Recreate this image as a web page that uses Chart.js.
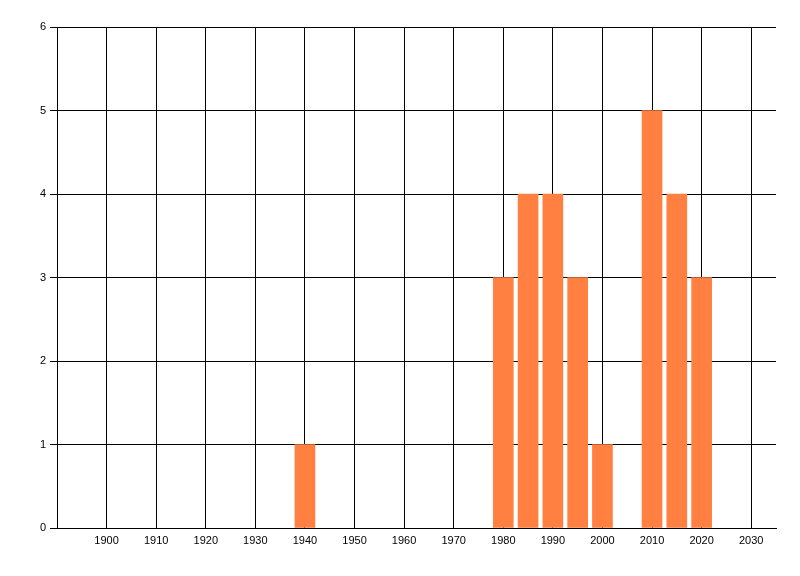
<!DOCTYPE html>
<html lang="en">
<head>
  <meta charset="UTF-8" />
  <title>Bar Chart by Year</title>
  <script src="https://cdn.jsdelivr.net/npm/chart.js"></script>
  <style>
    body { margin: 0; background: #ffffff; }
    #wrap { width: 800px; height: 576px; }
  </style>
</head>
<body>

<div id="wrap">
  <canvas id="myChart" width="800" height="576"></canvas>
</div>

<script>
  // Data
  const years = [1940, 1980, 1985, 1990, 1995, 2000, 2010, 2015, 2020];
  const counts = [1, 3, 4, 4, 3, 1, 5, 4, 3];
  const xTicks = [1900, 1910, 1920, 1930, 1940, 1950, 1960, 1970, 1980, 1990, 2000, 2010, 2020, 2030];
  const yTicks = [0, 1, 2, 3, 4, 5, 6];

  const barColor = '#ff8040';
  const axisFont = { family: '"Liberation Sans", Arial, sans-serif', size: 11 };

  const ctx = document.getElementById('myChart').getContext('2d');

  new Chart(ctx, {
    type: 'bar',
    data: {
      datasets: [{
        data: years.map((y, i) => ({ x: y, y: counts[i] })),
        backgroundColor: barColor,
        borderWidth: 0,
        barThickness: 20
      }]
    },
    options: {
      responsive: false,
      animation: false,
      devicePixelRatio: 1,
      layout: { padding: { top: 27, right: 24, left: 0, bottom: 0 } },
      plugins: {
        legend: { display: false },
        tooltip: { enabled: false }
      },
      scales: {
        x: {
          type: 'linear',
          min: 1890,
          max: 2035,
          offset: false,
          afterBuildTicks: axis => { axis.ticks = xTicks.map(v => ({ value: v })); },
          afterFit: axis => { axis.height = 48; },
          grid: { color: '#000000', lineWidth: 1, drawTicks: false, offset: false },
          border: { color: '#000000', width: 1 },
          ticks: {
            color: '#000000',
            font: axisFont,
            padding: 6,
            maxRotation: 0,
            autoSkip: false,
            callback: v => String(v)
          }
        },
        y: {
          min: 0,
          max: 6,
          afterBuildTicks: axis => { axis.ticks = yTicks.map(v => ({ value: v })); },
          afterFit: axis => { axis.width = 57; },
          grid: { color: '#000000', lineWidth: 1, tickLength: 7 },
          border: { color: '#000000', width: 1 },
          ticks: {
            color: '#000000',
            font: axisFont,
            padding: 4
          }
        }
      }
    }
  });
</script>

</body>
</html>
